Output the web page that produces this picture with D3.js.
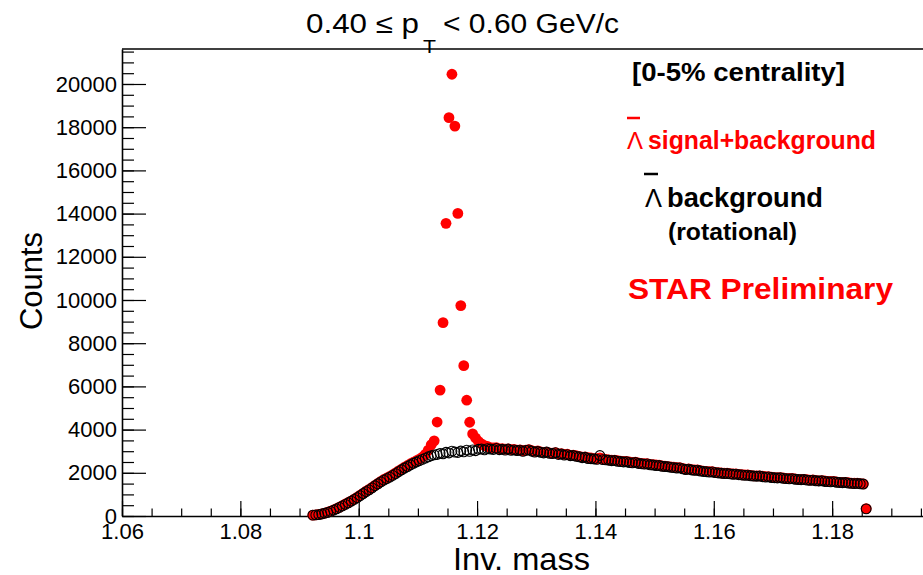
<!DOCTYPE html>
<html>
<head>
<meta charset="utf-8">
<script src="https://cdn.jsdelivr.net/npm/d3@7"></script>
<style>
  html, body { margin: 0; padding: 0; background: #fff; }
  svg { display: block; }
  text { font-family: "Liberation Sans", Arial, Helvetica, sans-serif; }
</style>
</head>
<body>
<svg id="chart" width="923" height="575"></svg>
<script>
// ---- histogram axis definition (uniform bins) ----
const binLow = 1.092;
const binWidth = 0.0005;

// ---- red: Lambda-bar signal + background (counts per bin) ----
const signalBkg = [
  40, 55, 70, 100, 135, 175, 225, 280, 345, 410,
  480, 555, 625, 700, 785, 870, 960, 1050, 1150, 1230,
  1320, 1420, 1510, 1600, 1690, 1760, 1830, 1910, 2000, 2090,
  2170, 2260, 2340, 2420, 2490, 2560, 2630, 2720, 2850, 3050,
  3300, 3480, 4350, 5830, 8950, 13550, 18440, 20450, 18050, 14010,
  9740, 6960, 5360, 4340, 3800, 3610, 3450, 3340, 3260, 3220,
  3170, 3150, 3160, 3110, 3120, 3090, 3110, 3070, 3080, 3050,
  3060, 3020, 3050, 3070, 3020, 2990, 3010, 2970, 2950, 2960,
  2920, 2910, 2930, 2880, 2890, 2850, 2860, 2810, 2820, 2790,
  2760, 2730, 2740, 2700, 2690, 2660, 2650, 2690, 2640, 2620,
  2600, 2590, 2590, 2560, 2540, 2530, 2530, 2500, 2480, 2490,
  2460, 2440, 2420, 2420, 2390, 2380, 2360, 2350, 2320, 2310,
  2290, 2270, 2260, 2240, 2240, 2200, 2170, 2180, 2150, 2130,
  2130, 2100, 2080, 2070, 2050, 2050, 2020, 2010, 1990, 1980,
  1980, 1960, 1950, 1950, 1930, 1910, 1900, 1900, 1880, 1860,
  1860, 1860, 1840, 1820, 1820, 1800, 1780, 1780, 1780, 1760,
  1740, 1740, 1740, 1720, 1700, 1700, 1700, 1680, 1660, 1670,
  1650, 1630, 1640, 1620, 1600, 1600, 1600, 1580, 1560, 1560,
  1560, 1540, 1520, 1520, 1520, 1500, 1490, 340
];

// ---- black: rotational background (counts per bin) ----
const background = [
  40, 50, 65, 95, 130, 165, 215, 270, 330, 400,
  470, 540, 610, 690, 770, 850, 940, 1040, 1130, 1210,
  1300, 1400, 1490, 1580, 1660, 1730, 1800, 1880, 1960, 2050,
  2140, 2220, 2290, 2370, 2440, 2500, 2560, 2620, 2680, 2740,
  2790, 2830, 2850, 2900, 2880, 2950, 2920, 3000, 2960, 2940,
  3010, 2970, 3050, 2990, 3060, 3020, 3090, 3100, 3060, 3120,
  3100, 3080, 3130, 3070, 3090, 3050, 3100, 3040, 3060, 3030,
  3050, 2990, 3040, 3060, 3000, 2960, 2990, 2950, 2920, 2960,
  2900, 2890, 2930, 2850, 2870, 2820, 2840, 2790, 2800, 2760,
  2740, 2700, 2720, 2660, 2650, 2640, 2620, 2800, 2610, 2600,
  2580, 2560, 2570, 2530, 2520, 2500, 2510, 2470, 2460, 2480,
  2430, 2420, 2400, 2410, 2370, 2360, 2330, 2340, 2300, 2290,
  2280, 2250, 2240, 2220, 2230, 2180, 2150, 2170, 2130, 2110,
  2120, 2080, 2060, 2050, 2030, 2040, 2010, 1990, 1980, 1960,
  1970, 1950, 1930, 1940, 1910, 1900, 1880, 1890, 1860, 1850,
  1840, 1850, 1820, 1800, 1810, 1780, 1770, 1760, 1770, 1740,
  1730, 1720, 1730, 1700, 1690, 1680, 1690, 1660, 1650, 1660,
  1630, 1620, 1630, 1600, 1590, 1580, 1590, 1560, 1550, 1540,
  1550, 1520, 1510, 1500, 1510, 1490, 1480, 330
];

// ---- axis ticks ----
const xMajorTicks = [1.06, 1.08, 1.10, 1.12, 1.14, 1.16, 1.18];
const xTickLabels = ["1.06", "1.08", "1.1", "1.12", "1.14", "1.16", "1.18"];
const yMajorTicks = [0, 2000, 4000, 6000, 8000, 10000, 12000, 14000, 16000, 18000, 20000];
const yTickLabels = ["0", "2000", "4000", "6000", "8000", "10000", "12000", "14000", "16000", "18000", "20000"];

const svg = d3.select("#chart");
const L = 122, R = 950.5, T = 49, B = 516;

const x = d3.scaleLinear().domain([1.06, 1.20]).range([L, R]);
const y = d3.scaleLinear().domain([0, 21620]).range([B, T]);

const binCenter = i => binLow + binWidth * (i + 0.5);

// frame top line
svg.append("line").attr("x1", L).attr("x2", 923).attr("y1", T).attr("y2", T)
  .attr("stroke", "#000").attr("stroke-width", 1.5);

// x minor ticks
const xMinor = d3.range(0, 29).map(k => 1.06 + k * 0.005);
svg.append("g").attr("transform", `translate(0,${B})`)
  .call(d3.axisBottom(x).tickValues(xMinor).tickSizeInner(-7.5).tickSizeOuter(0).tickFormat(""))
  .call(g => g.select(".domain").remove())
  .call(g => g.selectAll("line").attr("stroke-width", 1.2));

// x major axis
svg.append("g").attr("transform", `translate(0,${B})`)
  .call(d3.axisBottom(x).tickValues(xMajorTicks).tickSizeInner(-15).tickSizeOuter(0).tickPadding(7)
    .tickFormat((d, i) => xTickLabels[i]))
  .call(g => g.select(".domain").attr("stroke-width", 1.6))
  .call(g => g.selectAll("line").attr("stroke-width", 1.2))
  .call(g => g.selectAll("text").attr("font-size", 22).attr("fill", "#000")
    .attr("font-family", "Liberation Sans, Arial, sans-serif"));

// y minor ticks
const yMinor = d3.range(0, 44).map(k => k * 500);
svg.append("g").attr("transform", `translate(${L},0)`)
  .call(d3.axisLeft(y).tickValues(yMinor).tickSizeInner(-12).tickSizeOuter(0).tickFormat(""))
  .call(g => g.select(".domain").remove())
  .call(g => g.selectAll("line").attr("stroke-width", 1.2));

// y major axis
svg.append("g").attr("transform", `translate(${L},0)`)
  .call(d3.axisLeft(y).tickValues(yMajorTicks).tickSizeInner(-24).tickSizeOuter(0).tickPadding(5)
    .tickFormat((d, i) => yTickLabels[i]))
  .call(g => g.select(".domain").attr("stroke-width", 1.6))
  .call(g => g.selectAll("line").attr("stroke-width", 1.2))
  .call(g => g.selectAll("text").attr("font-size", 22).attr("fill", "#000")
    .attr("font-family", "Liberation Sans, Arial, sans-serif"));

// red filled markers (signal + background)
svg.append("g").selectAll("circle").data(signalBkg).join("circle")
  .attr("cx", (d, i) => x(binCenter(i)))
  .attr("cy", d => y(d))
  .attr("r", 5.4)
  .attr("fill", "#ff0000");

// black open markers (rotational background)
svg.append("g").selectAll("circle").data(background).join("circle")
  .attr("cx", (d, i) => x(binCenter(i)))
  .attr("cy", d => y(d))
  .attr("r", 4.9)
  .attr("fill", "none")
  .attr("stroke", "#000")
  .attr("stroke-width", 1.1);

// ---- title ----
svg.append("text").attr("x", 306).attr("y", 33).attr("font-size", 27)
  .attr("textLength", 113).attr("lengthAdjust", "spacingAndGlyphs").text("0.40 ≤ p");
svg.append("text").attr("x", 423).attr("y", 53).attr("font-size", 18)
  .attr("textLength", 13).attr("lengthAdjust", "spacingAndGlyphs").text("T");
svg.append("text").attr("x", 443).attr("y", 33).attr("font-size", 27)
  .attr("textLength", 176).attr("lengthAdjust", "spacingAndGlyphs").text("< 0.60 GeV/c");

// ---- axis titles ----
svg.append("text").attr("transform", "translate(42,281) rotate(-90)")
  .attr("text-anchor", "middle").attr("font-size", 32)
  .attr("textLength", 98).attr("lengthAdjust", "spacingAndGlyphs").text("Counts");
svg.append("text").attr("x", 453).attr("y", 570).attr("font-size", 32)
  .attr("textLength", 137).attr("lengthAdjust", "spacingAndGlyphs").text("Inv. mass");

// ---- legend / annotations ----
const bold = "bold";
svg.append("text").attr("x", 632).attr("y", 81).attr("font-size", 26).attr("font-weight", bold)
  .attr("textLength", 213).attr("lengthAdjust", "spacingAndGlyphs").text("[0-5% centrality]");

svg.append("line").attr("x1", 627).attr("x2", 640).attr("y1", 118).attr("y2", 118)
  .attr("stroke", "#ff0000").attr("stroke-width", 2.5);
svg.append("text").attr("x", 627).attr("y", 149).attr("font-size", 24)
  .attr("font-family", "Liberation Serif, Times New Roman, serif").attr("fill", "#ff0000")
  .attr("textLength", 16).attr("lengthAdjust", "spacingAndGlyphs").text("Λ");
svg.append("text").attr("x", 648).attr("y", 149).attr("font-size", 25).attr("font-weight", bold)
  .attr("fill", "#ff0000")
  .attr("textLength", 228).attr("lengthAdjust", "spacingAndGlyphs").text("signal+background");

svg.append("line").attr("x1", 644).attr("x2", 658).attr("y1", 174).attr("y2", 174)
  .attr("stroke", "#000").attr("stroke-width", 2.5);
svg.append("text").attr("x", 645).attr("y", 207).attr("font-size", 25)
  .attr("font-family", "Liberation Serif, Times New Roman, serif").attr("fill", "#000")
  .attr("textLength", 17).attr("lengthAdjust", "spacingAndGlyphs").text("Λ");
svg.append("text").attr("x", 667).attr("y", 207).attr("font-size", 27).attr("font-weight", bold)
  .attr("textLength", 156).attr("lengthAdjust", "spacingAndGlyphs").text("background");
svg.append("text").attr("x", 668).attr("y", 240).attr("font-size", 24).attr("font-weight", bold)
  .attr("textLength", 129).attr("lengthAdjust", "spacingAndGlyphs").text("(rotational)");

svg.append("text").attr("x", 628).attr("y", 299).attr("font-size", 29).attr("font-weight", bold)
  .attr("fill", "#ff0000")
  .attr("textLength", 265).attr("lengthAdjust", "spacingAndGlyphs").text("STAR Preliminary");
</script>
</body>
</html>
